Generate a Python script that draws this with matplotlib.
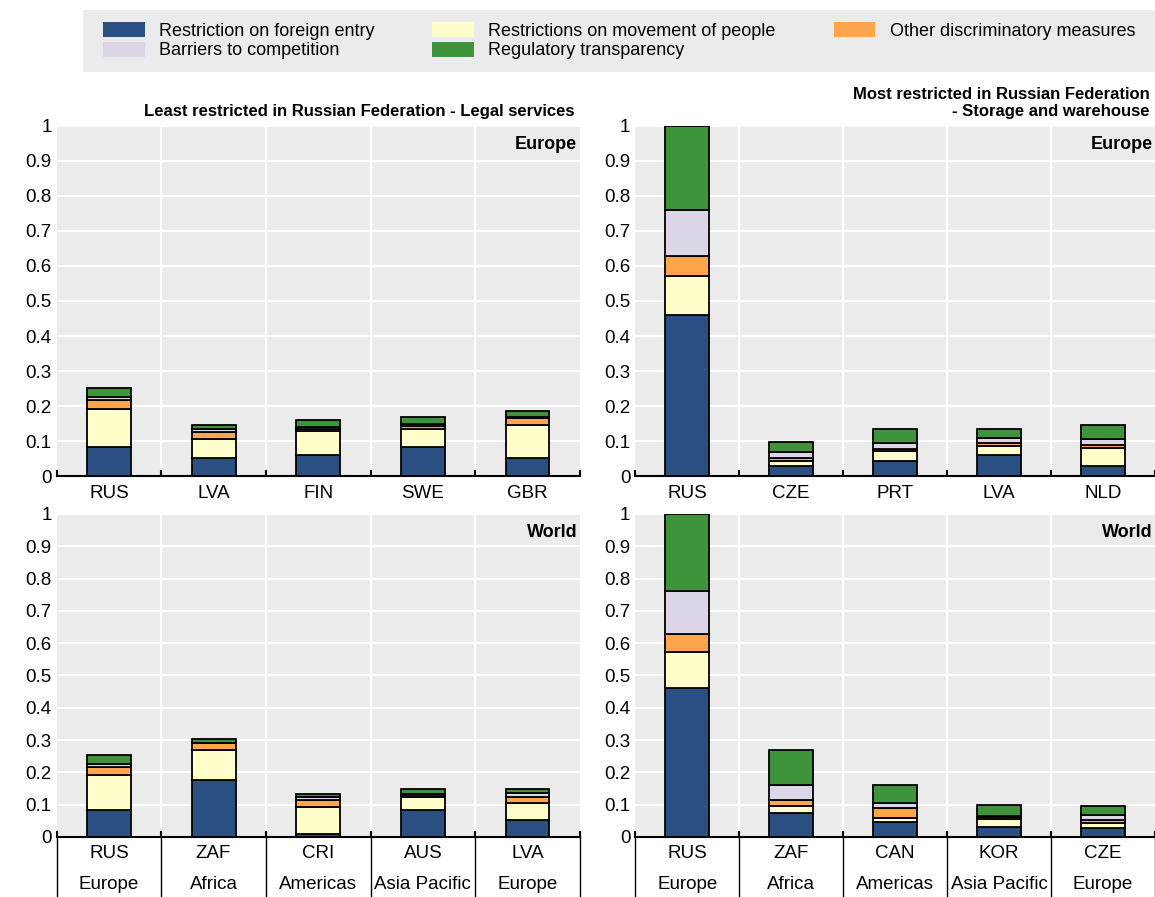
import numpy as np
import matplotlib
matplotlib.use('Agg')
import matplotlib.pyplot as plt
from matplotlib.patches import Patch

plt.rcParams['font.family'] = ['Liberation Sans', 'DejaVu Sans']

series = ['Restriction on foreign entry', 'Restrictions on movement of people',
          'Other discriminatory measures', 'Barriers to competition', 'Regulatory transparency']
colors = ['#2A5082', '#FFFFCC', '#FFA64D', '#DDD5E8', '#3E943B']

# values per panel: rows = countries, cols = series (fe, mv, od, bc, rt)
legal_eu_cty = ['RUS', 'LVA', 'FIN', 'SWE', 'GBR']
legal_eu = [[0.083, 0.110, 0.025, 0.007, 0.028],
            [0.052, 0.053, 0.020, 0.010, 0.012],
            [0.062, 0.068, 0.006, 0.005, 0.020],
            [0.083, 0.052, 0.008, 0.007, 0.018],
            [0.052, 0.095, 0.020, 0.002, 0.018]]
legal_w_cty = ['RUS', 'ZAF', 'CRI', 'AUS', 'LVA']
legal_w_reg = ['Europe', 'Africa', 'Americas', 'Asia Pacific', 'Europe']
legal_w = [[0.083, 0.110, 0.025, 0.007, 0.028],
           [0.175, 0.095, 0.020, 0.002, 0.010],
           [0.008, 0.085, 0.020, 0.010, 0.010],
           [0.083, 0.040, 0.005, 0.005, 0.015],
           [0.052, 0.053, 0.020, 0.010, 0.012]]
stor_eu_cty = ['RUS', 'CZE', 'PRT', 'LVA', 'NLD']
stor_eu = [[0.460, 0.112, 0.055, 0.133, 0.240],
           [0.028, 0.015, 0.008, 0.017, 0.029],
           [0.045, 0.027, 0.007, 0.015, 0.040],
           [0.060, 0.027, 0.007, 0.015, 0.025],
           [0.030, 0.052, 0.007, 0.017, 0.040]]
stor_w_cty = ['RUS', 'ZAF', 'CAN', 'KOR', 'CZE']
stor_w_reg = ['Europe', 'Africa', 'Americas', 'Asia Pacific', 'Europe']
stor_w = [[0.460, 0.112, 0.055, 0.133, 0.240],
          [0.075, 0.020, 0.020, 0.045, 0.110],
          [0.045, 0.015, 0.030, 0.015, 0.055],
          [0.030, 0.025, 0.008, 0.002, 0.035],
          [0.028, 0.015, 0.008, 0.017, 0.029]]

fig = plt.figure(figsize=(11.55, 8.97), dpi=100)


def panel(rect, cty, vals, label, regions=None, title=None):
    ax = fig.add_axes(rect)
    ax.set_facecolor('#EBEBEB')
    vals = np.array(vals)
    x = np.arange(len(cty))
    bottom = np.zeros(len(cty))
    for j in range(vals.shape[1]):
        ax.bar(x, vals[:, j], 0.42, bottom=bottom, color=colors[j],
               edgecolor='black', linewidth=1.3, zorder=3)
        bottom += vals[:, j]
    ax.set_xlim(-0.5, len(cty) - 0.5)
    ax.set_ylim(0, 1)
    ax.set_yticks(np.arange(0, 1.01, 0.1))
    ax.set_yticklabels(['0'] + ['%.1f' % v for v in np.arange(0.1, 0.95, 0.1)] + ['1'])
    ax.yaxis.grid(True, color='white', linewidth=1.5, zorder=0)
    for b in np.arange(0.5, len(cty) - 0.5, 1):
        ax.axvline(b, color='white', linewidth=1.5, zorder=1)
    ax.set_xticks(np.arange(-0.5, len(cty), 1), minor=False)
    ax.set_xticklabels([])
    ax.tick_params(axis='x', length=4, width=1.5, direction='in')
    ax.tick_params(axis='y', length=0, labelsize=13.5)
    for s in ['top', 'right']:
        ax.spines[s].set_visible(False)
    ax.spines['left'].set_visible(False)
    ax.spines['bottom'].set_linewidth(1.5)
    for i, c in enumerate(cty):
        ax.text(i, -0.025, c, ha='center', va='top', fontsize=13.5,
                transform=ax.get_xaxis_transform())
        if regions:
            ax.text(i, -0.12, regions[i], ha='center', va='top', fontsize=13.5,
                    transform=ax.get_xaxis_transform())
    if regions:
        for b in np.arange(-0.5, len(cty), 1):
            ax.plot([b, b], [0, -0.2], color='black', linewidth=1,
                    transform=ax.get_xaxis_transform(), clip_on=False)
    ax.text(0.995, 0.97, label, ha='right', va='top', fontsize=13, fontweight='bold',
            transform=ax.transAxes)
    if title:
        ax.text(0.99, 1.02, title, ha='right', va='bottom', fontsize=12, fontweight='bold',
                transform=ax.transAxes, linespacing=1.1)
    return ax


panel([0.049, 0.469, 0.453, 0.391], legal_eu_cty, legal_eu, 'Europe',
      title='Least restricted in Russian Federation - Legal services')
panel([0.049, 0.067, 0.453, 0.36], legal_w_cty, legal_w, 'World', regions=legal_w_reg)
panel([0.55, 0.469, 0.45, 0.391], stor_eu_cty, stor_eu, 'Europe',
      title='Most restricted in Russian Federation\n- Storage and warehouse')
panel([0.55, 0.067, 0.45, 0.36], stor_w_cty, stor_w, 'World', regions=stor_w_reg)

# legend
lax = fig.add_axes([0.072, 0.92, 0.928, 0.069])
lax.set_facecolor('#EBEBEB')
lax.set_xticks([])
lax.set_yticks([])
for s in lax.spines.values():
    s.set_visible(False)
order = [0, 3, 1, 4, 2]
handles = [Patch(facecolor=colors[i], edgecolor='none') for i in order]
lax.legend(handles, [series[i] for i in order], ncol=3, loc='center', frameon=False,
           fontsize=13, handlelength=2.3, handleheight=0.9, columnspacing=3.2,
           labelspacing=0.1, borderaxespad=0)

fig.savefig('out.png', dpi=100)
